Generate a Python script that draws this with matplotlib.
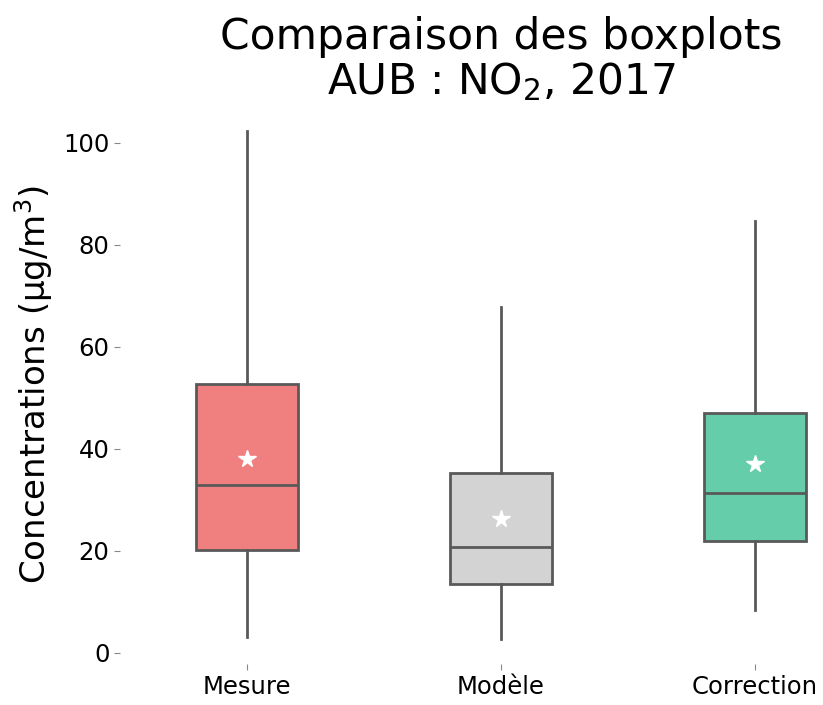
import matplotlib
matplotlib.use("Agg")
import matplotlib.pyplot as plt

labels = ["Mesure", "Modèle", "Correction"]
whislo = [3.1, 2.8, 8.4]
q1 = [20.2, 13.6, 22.0]
med = [33.0, 20.8, 31.4]
q3 = [52.8, 35.2, 47.0]
whishi = [102.4, 67.8, 84.7]
means = [38.1, 26.3, 37.1]
colors = ["#f08080", "#d3d3d3", "#66cdaa"]

stats = []
for i in range(len(labels)):
    stats.append(dict(label=labels[i], whislo=whislo[i], q1=q1[i], med=med[i],
                      q3=q3[i], whishi=whishi[i], mean=means[i], fliers=[]))

fig = plt.figure(figsize=(8.23, 7.05), dpi=100)
ax = fig.add_axes([0.1458, 0.058, 0.926, 0.793])

line = dict(color="#595959", linewidth=2)
bp = ax.bxp(stats, positions=range(3), widths=0.4, patch_artist=True,
            showmeans=True, showcaps=False,
            boxprops=dict(edgecolor="#595959", linewidth=2),
            whiskerprops=line, medianprops=line,
            meanprops=dict(marker="*", markerfacecolor="white",
                           markeredgecolor="white", markersize=13))
for patch, c in zip(bp["boxes"], colors):
    patch.set_facecolor(c)

ax.set_xlim(-0.5, 2.5)
ax.set_ylim(-2.2, 107.4)
ax.set_yticks([0, 20, 40, 60, 80, 100])
for s in ax.spines.values():
    s.set_visible(False)
ax.tick_params(axis="both", labelsize=17.5, length=4, color="#888888")
ax.set_ylabel("Concentrations (µg/m$^3$)", fontsize=24.5, labelpad=6)
ax.set_title("Comparaison des boxplots\nAUB : NO$_2$, 2017", fontsize=30.5,
             pad=8, linespacing=1.05)

fig.savefig("out.png", dpi=100)
